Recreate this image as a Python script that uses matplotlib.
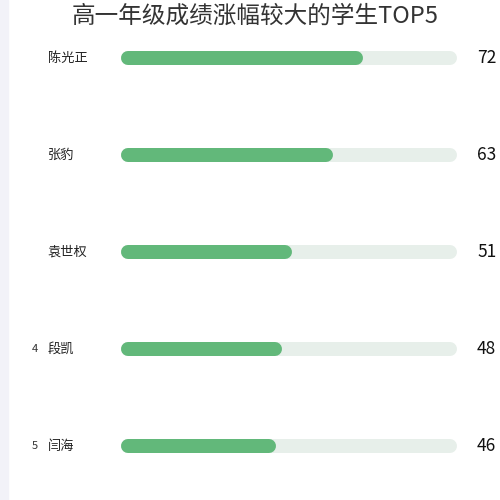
import matplotlib
matplotlib.use("Agg")
import matplotlib.pyplot as plt
from matplotlib.patches import Rectangle

plt.rcParams['font.family'] = ['Noto Sans CJK SC', 'DejaVu Sans']

names = ["陈光正", "张豹", "袁世权", "段凯", "闫海"]
values = [72, 63, 51, 48, 46]
ranks = ["", "", "", "4", "5"]
vmax = 100
title = "高一年级成绩涨幅较大的学生TOP5"

fig = plt.figure(figsize=(5, 5), dpi=100)
fig.patches.append(Rectangle((0, 0), 8/500, 1, transform=fig.transFigure, color="#f2f2f8", zorder=0))
ax = fig.add_axes([121/500, 5.5/500, 336/500, 485/500])
ax.set_xlim(0, vmax)
ax.set_ylim(4.5, -0.5)
ax.axis("off")

lw = 14 * 72 / 100  # 14 px
r = 7 / 336 * vmax
for i, (n, v, rk) in enumerate(zip(names, values, ranks)):
    ax.plot([r, vmax - r], [i, i], color="#e7efea", lw=lw, solid_capstyle="round", zorder=1)
    ax.plot([r, v - r], [i, i], color="#62b87a", lw=lw, solid_capstyle="round", zorder=2)
    ax.text(-73 / 336 * vmax, i, n, ha="left", va="center", fontsize=9.5, color="#222")
    if rk:
        ax.text(-89 / 336 * vmax, i, rk, ha="left", va="center", fontsize=8, color="#333")
    ax.text(vmax + 20 / 336 * vmax, i, str(v), ha="left", va="center", fontsize=12.5, color="#111")

fig.text(255/500, 1 - 16/500, title, ha="center", va="center", fontsize=17, color="#333")
fig.savefig("out.png", dpi=100)
